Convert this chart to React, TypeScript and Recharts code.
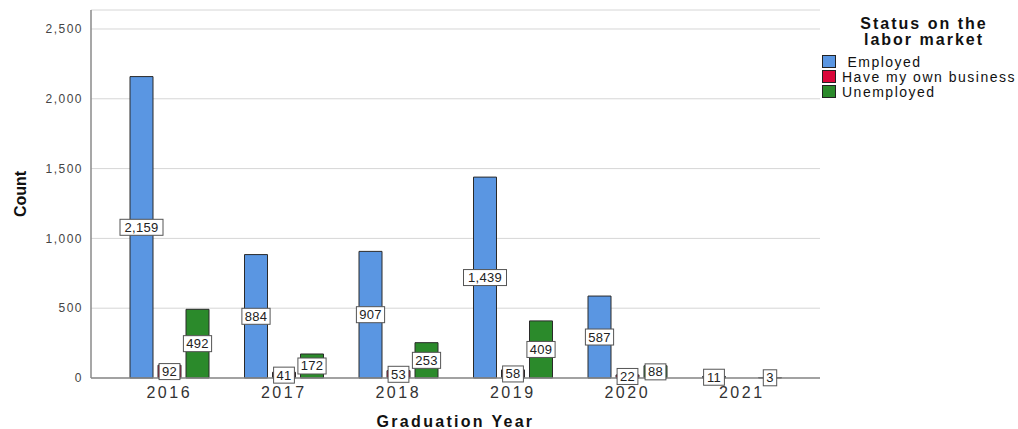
import { BarChart, Bar, XAxis, YAxis, CartesianGrid, Legend, LabelList } from 'recharts';

const years = ['2016', '2017', '2018', '2019', '2020', '2021'];
const employed = [2159, 884, 907, 1439, 587, 11];
const ownBusiness = [92, 41, 53, 58, 22, null];
const unemployed = [492, 172, 253, 409, 88, 3];
const yTicks = [0, 500, 1000, 1500, 2000, 2500];

const series = [
  { key: 'employed', name: ' Employed', color: '#5a96e2' },
  { key: 'business', name: 'Have my own business', color: '#d9073a' },
  { key: 'unemployed', name: 'Unemployed', color: '#2b8a2b' },
];

const data = years.map((year, i) => ({
  year,
  employed: employed[i],
  business: ownBusiness[i],
  unemployed: unemployed[i],
}));

const FONT = '"Liberation Sans", Arial, sans-serif';

const ValueBox = ({ x, y, width, height, value }: any) => {
  if (value == null || value === 0) return null;
  const txt = Number(value).toLocaleString('en-US');
  const w = txt.length * 7.4 + 6;
  const h = 16;
  const cx = x + width / 2;
  const cy = y + height / 2;
  return (
    <g>
      <rect x={cx - w / 2} y={cy - h / 2} width={w} height={h} fill="#fff" stroke="#555" strokeWidth={1} />
      <text x={cx} y={cy} textAnchor="middle" dominantBaseline="central"
        style={{ fontSize: 13, fontFamily: FONT, fill: '#222', letterSpacing: 0.3 }}>
        {txt}
      </text>
    </g>
  );
};

const LegendBox = () => (
  <div style={{ fontFamily: FONT, width: 198 }}>
    <div style={{ fontWeight: 700, fontSize: 16, lineHeight: '16px', textAlign: 'center', width: 200, color: '#111', paddingLeft: 2, marginTop: 2, letterSpacing: 2 }}>
      Status on the<br />labor market
    </div>
    <div style={{ marginTop: 6 }}>
      {series.map(s => (
        <div key={s.key} style={{ display: 'flex', alignItems: 'center', height: 15, fontSize: 14, color: '#111', letterSpacing: 1.5 }}>
          <div style={{ width: 12, height: 11, background: s.color, border: '1px solid #222', marginRight: 6, flexShrink: 0 }} />
          <span style={{ whiteSpace: 'pre' }}>{s.name}</span>
        </div>
      ))}
    </div>
  </div>
);

export default function App() {
  return (
    <div style={{ width: 1018, height: 429, background: '#fff' }}>
      <style>{'body{margin:0}'}</style>
      <BarChart
        width={1018}
        height={429}
        data={data}
        margin={{ top: 10, right: 198, bottom: 21, left: 0 }}
        barSize={23}
        barGap={5}
      >
        <CartesianGrid vertical={false} stroke="#d6d6d6" />
        <XAxis
          dataKey="year"
          height={30}
          padding={{ left: 21, right: 21 }}
          tickLine={false}
          tickSize={0}
          tickMargin={9}
          stroke="#8a8a8a"
          strokeWidth={1.5}
          tick={{ fontSize: 16, fill: '#333', fontFamily: FONT, letterSpacing: 2.5 }}
          label={{ value: 'Graduation Year', position: 'insideBottom', offset: -19,
            style: { fontSize: 16, fontWeight: 700, fill: '#111', fontFamily: FONT, letterSpacing: 2.3 } }}
        />
        <YAxis
          width={91}
          domain={[0, 2636]}
          ticks={yTicks}
          tickLine={false}
          tickSize={0}
          tickMargin={8}
          stroke="#8a8a8a"
          strokeWidth={1.5}
          tickFormatter={(v: number) => v.toLocaleString('en-US')}
          tick={{ fontSize: 12, fill: '#444', fontFamily: FONT, letterSpacing: 1.5 }}
          label={{ value: 'Count', angle: -90, position: 'insideLeft', offset: 20,
            style: { fontSize: 16, fontWeight: 700, fill: '#111', fontFamily: FONT, textAnchor: 'middle' } }}
        />
        <Legend
          layout="vertical"
          align="center"
          verticalAlign="middle"
          content={<LegendBox />}
          wrapperStyle={{ position: 'absolute', left: 822, top: 14, width: 200 }}
        />
        {series.map(s => (
          <Bar key={s.key} dataKey={s.key} name={s.name} fill={s.color} stroke="#2a2a2a" strokeWidth={1}
            isAnimationActive={false}>
            <LabelList dataKey={s.key} content={<ValueBox />} />
          </Bar>
        ))}
      </BarChart>
    </div>
  );
}
